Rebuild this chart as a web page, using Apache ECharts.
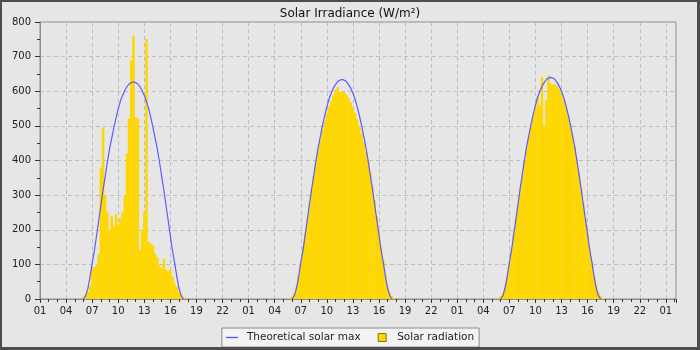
<!DOCTYPE html>
<html>
<head>
<meta charset="utf-8">
<script src="https://cdn.jsdelivr.net/npm/echarts@6/dist/echarts.min.js"></script>
<style>
  html, body { margin: 0; padding: 0; background: #e6e6e6; }
  #wrap { position: relative; width: 700px; height: 350px; }
  #chart { position: absolute; left: 0; top: 0; width: 700px; height: 350px; }
  #frame { position: absolute; left: 0; top: 0; width: 700px; height: 350px; box-sizing: border-box;
           border-style: solid; border-color: #4d4d4d; border-width: 2px 3px 3px 2px; pointer-events: none; }
</style>
</head>
<body>
<div id="wrap"><div id="chart"></div><div id="frame"></div></div>
<script>
// Sample times of day (15-minute steps), shared by the three days
const times = ['05:45','06:00','06:15','06:30','06:45','07:00','07:15','07:30','07:45','08:00','08:15','08:30','08:45',
  '09:00','09:15','09:30','09:45','10:00','10:15','10:30','10:45','11:00','11:15','11:30','11:45','12:00','12:15',
  '12:30','12:45','13:00','13:15','13:30','13:45','14:00','14:15','14:30','14:45','15:00','15:15','15:30','15:45',
  '16:00','16:15','16:30','16:45','17:00','17:15','17:30','17:45'];

// X-axis tick labels (every 3 hours, starting 01:00 of day 1)
const hourTicks = ['01','04','07','10','13','16','19','22','01','04','07','10','13','16','19','22',
  '01','04','07','10','13','16','19','22','01'];

// Theoretical solar max (W/m²)
const maxDay1 = [null,0,9,30,63,103,138,182,226,270,314,354,395,433,464,495,524,549,571,588,602,613,621,625,627,
  625,621,613,602,588,571,549,524,495,464,433,395,354,314,270,226,182,138,103,63,30,9,0,null];
const maxDay2 = [null,0,9,30,63,105,139,184,228,273,317,358,399,437,469,501,529,555,577,595,609,619,628,632,634,
  632,628,619,609,595,577,555,529,501,469,437,399,358,317,273,228,184,139,105,63,30,9,0,null];
const maxDay3 = [null,0,9,31,64,106,141,186,230,275,320,362,403,442,474,506,534,560,582,600,614,625,634,638,640,
  638,634,625,614,600,582,560,534,506,474,442,403,362,320,275,230,186,141,106,64,31,9,0,null];

// Measured solar radiation (W/m²)
const radDay1 = [0,5,12,20,38,88,92,100,130,380,495,300,250,200,240,210,245,215,235,250,300,420,520,690,760,
  525,520,140,200,250,750,165,160,155,130,120,95,90,115,85,80,85,65,45,35,18,12,6,0];
const radDay2 = [3,6,15,36,68,105,146,190,232,276,318,356,394,428,458,488,512,535,555,572,590,605,612,598,600,
  597,590,580,568,552,538,520,500,478,452,425,400,365,325,285,240,195,150,110,70,38,18,8,3];
const radDay3 = [3,8,16,36,66,104,145,188,232,276,318,360,400,438,470,500,528,552,585,560,640,500,575,645,622,
  620,620,615,605,592,575,555,530,505,475,442,405,365,322,278,234,190,145,105,68,38,18,8,3];

const dayMax = [maxDay1, maxDay2, maxDay3];
const dayRad = [radDay1, radDay2, radDay3];

function hoursFromStart(day, hhmm) {
  const p = hhmm.split(':');
  return (+p[0]) - 1 + (+p[1]) / 60 + 24 * day;
}

const lineData = [];
const barData = [];
for (let d = 0; d < 3; d++) {
  times.forEach((t, i) => {
    const x = hoursFromStart(d, t);
    const m = dayMax[d][i];
    lineData.push([x, m === null ? '-' : m]);
    barData.push([x, dayRad[d][i]]);
  });
}

const FONT = 'DejaVu Sans';
const chart = echarts.init(document.getElementById('chart'), null, { renderer: 'canvas' });
chart.setOption({
  backgroundColor: '#e6e6e6',
  animation: false,
  textStyle: { fontFamily: FONT },
  title: {
    text: 'Solar Irradiance (W/m²)',
    left: 'center', top: 3,
    textStyle: { fontSize: 12, fontWeight: 'normal', color: '#111', fontFamily: FONT }
  },
  grid: { left: 40, right: 24, top: 22, bottom: 51, show: true, borderColor: '#8c8c8c', borderWidth: 1,
          backgroundColor: 'transparent' },
  legend: {
    bottom: 3, left: 'center',
    backgroundColor: '#f3f3f3', borderColor: '#8a8a8a', borderWidth: 1,
    padding: [4, 5, 4, 4],
    itemWidth: 12, itemHeight: 8, itemGap: 17,
    textStyle: { fontSize: 10.5, color: '#222', fontFamily: FONT, padding: [0, 0, 0, 4] },
    data: [
      { name: 'Theoretical solar max', icon: 'path://M0,0h12v1.4h-12z',
        itemStyle: { color: '#5c5cff', borderWidth: 0 } },
      { name: 'Solar radiation', icon: 'path://M0,0h8v8h-8z',
        itemStyle: { color: '#FFD700', borderColor: '#8a7400', borderWidth: 1 } }
    ]
  },
  xAxis: {
    type: 'value', min: 0, max: 73.17, interval: 3,
    axisLine: { lineStyle: { color: '#8c8c8c' } },
    axisTick: { length: 4, lineStyle: { color: '#333' } },
    minorTick: { show: true, splitNumber: 3, length: 3, lineStyle: { color: '#333' } },
    splitLine: { show: true, lineStyle: { color: '#bdbdbd', type: [4, 3] } },
    axisLabel: {
      fontSize: 10, color: '#222', fontFamily: FONT, margin: 7, showMaxLabel: true,
      formatter: v => {
        const k = v / 3;
        return Math.abs(k - Math.round(k)) < 1e-6 ? (hourTicks[Math.round(k)] || '') : '';
      }
    }
  },
  yAxis: {
    type: 'value', min: 0, max: 800, interval: 100,
    axisLine: { show: true, lineStyle: { color: '#8c8c8c' } },
    axisTick: { show: true, length: 5, lineStyle: { color: '#333' } },
    minorTick: { show: true, splitNumber: 2, length: 3, lineStyle: { color: '#333' } },
    splitLine: { show: true, lineStyle: { color: '#bdbdbd', type: [4, 3] } },
    axisLabel: { fontSize: 10, color: '#222', fontFamily: FONT, margin: 9 }
  },
  series: [
    {
      name: 'Solar radiation', type: 'bar', data: barData, barWidth: 2.5,
      itemStyle: { color: '#FFD700' }, z: 2
    },
    {
      name: 'Theoretical solar max', type: 'line', data: lineData, symbol: 'none',
      connectNulls: false, lineStyle: { color: '#5c5cff', width: 1.2 }, itemStyle: { color: '#5c5cff' }, z: 3
    }
  ]
});
</script>
</body>
</html>
